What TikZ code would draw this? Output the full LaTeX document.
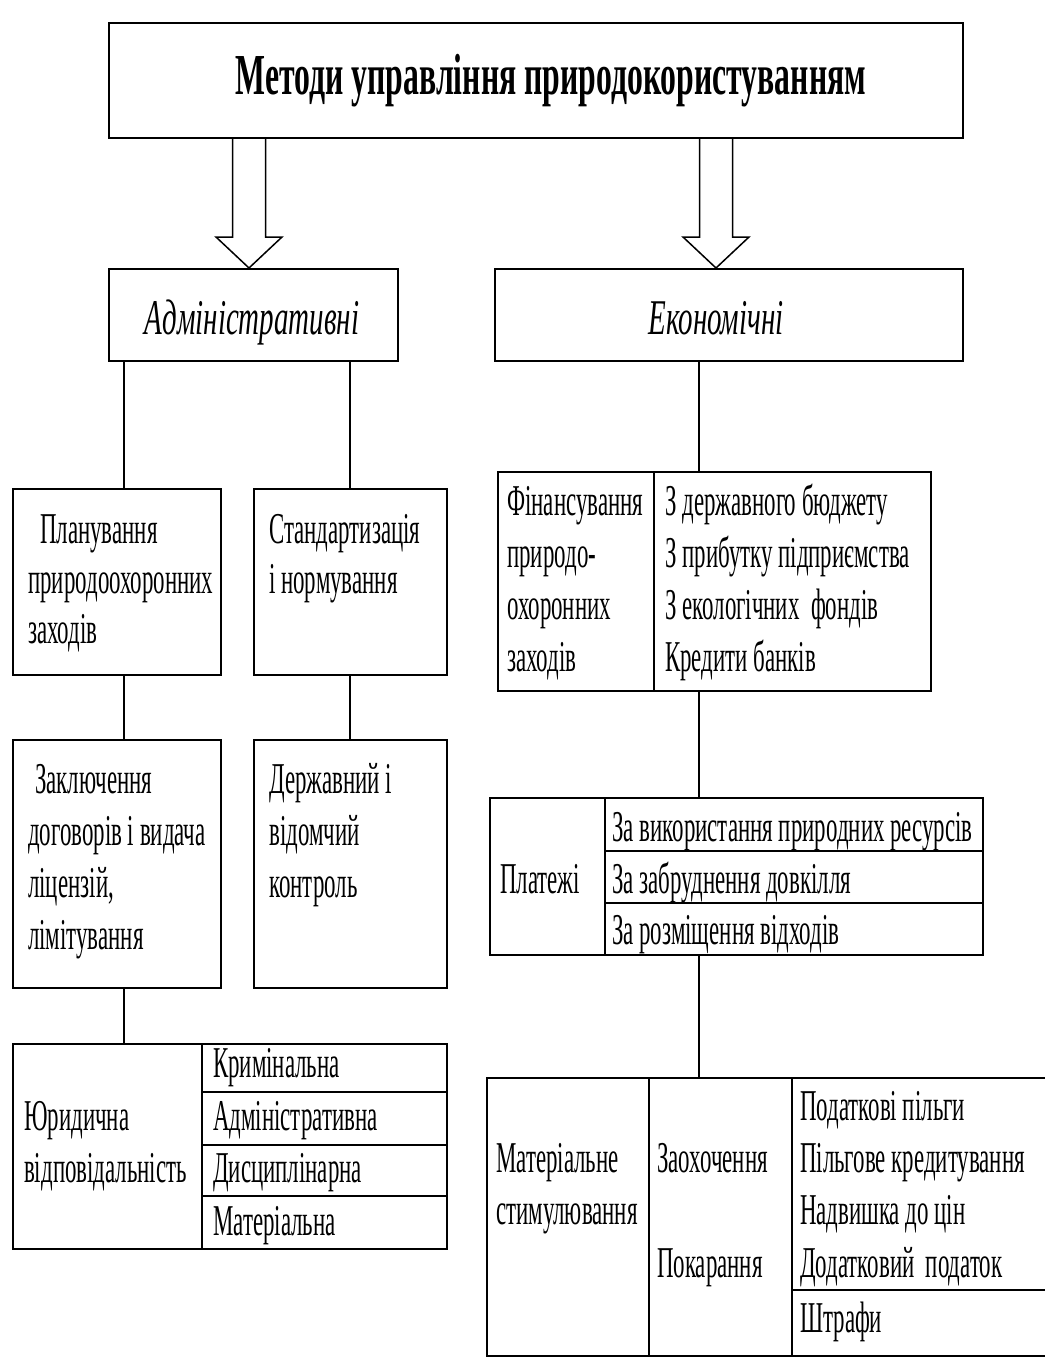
\documentclass[tikz,border=0pt]{standalone}
\usepackage{fontspec}
\setmainfont[FakeStretch=0.52]{Liberation Serif}
\newfontfamily\titlefont[FakeStretch=0.547]{Liberation Serif}
\newfontfamily\headfont[FakeStretch=0.58]{Liberation Serif}
\usetikzlibrary{calc}
\newcommand\bodytext{\fontsize{44}{52}\selectfont}
\tikzset{
  box/.style={draw, line width=2pt, rectangle, inner sep=0pt, anchor=north west},
  conn/.style={line width=1.5pt},
  rule/.style={line width=2pt},
  lbl/.style={anchor=base west, inner sep=0pt, font=\bodytext},
  head/.style={anchor=base, inner sep=0pt, font=\headfont\itshape\fontsize{50}{52}\selectfont},
  hollow/.style={line width=1.5pt, line join=miter, fill=white},
}
\newcommand\tx[4]{\node[lbl] (#1) at (#2,#3) {#4};}
\begin{document}
\begin{tikzpicture}[x=1pt, y=-1pt]
\useasboundingbox (0,0) rectangle (1044,1365);

% top level
\node[box, minimum width=854pt, minimum height=115pt] (title) at (108,22) {};
\node[anchor=base, inner sep=0pt, font=\titlefont\bfseries\fontsize{58}{60}\selectfont]
  (titletext) at (551,94) {Методи управління природокористуванням};

\node[box, minimum width=289pt, minimum height=92pt] (adm) at (108,268) {};
\node[head] (admtext) at (252,334) {Адміністративні};
\node[box, minimum width=468pt, minimum height=92pt] (eco) at (494,268) {};
\node[head] (ecotext) at (716,334) {Економічні};

% hollow block arrows
\coordinate (aL) at (249,0);
\coordinate (aR) at (716,0);
\foreach \a/\b in {aL/adm, aR/eco}{
  \draw[hollow] ($(title.south -| \a)+(-16.5,0)$) -- ($(\b.north -| \a)+(-16.5,-31)$)
    -- ($(\b.north -| \a)+(-33,-31)$) -- (\b.north -| \a)
    -- ($(\b.north -| \a)+(33,-31)$) -- ($(\b.north -| \a)+(16.5,-31)$)
    -- ($(title.south -| \a)+(16.5,0)$);
}

% administrative branch
\node[box, minimum width=208pt, minimum height=186pt] (plan) at (12,488) {};
\node[box, minimum width=193pt, minimum height=186pt] (std) at (253,488) {};
\node[box, minimum width=208pt, minimum height=248pt] (zakl) at (12,739) {};
\node[box, minimum width=193pt, minimum height=248pt] (derzh) at (253,739) {};
\node[box, minimum width=434pt, minimum height=205pt] (jur) at (12,1043) {};

\coordinate (cL) at (124,0);
\coordinate (cM) at (350,0);
\draw[conn] (adm.south -| cL) -- (plan.north -| cL);
\draw[conn] (adm.south -| cM) -- (std.north -| cM);
\draw[conn] (plan.south -| cL) -- (zakl.north -| cL);
\draw[conn] (std.south -| cM) -- (derzh.north -| cM);
\draw[conn] (zakl.south -| cL) -- (jur.north -| cL);

\tx{p1}{40}{543}{Планування}
\tx{p2}{28}{593}{природоохоронних}
\tx{p3}{28}{643}{заходів}
\tx{s1}{269}{543}{Стандартизація}
\tx{s2}{269}{593}{і нормування}
\tx{z1}{35}{793}{Заключення}
\tx{z2}{28}{845}{договорів і видача}
\tx{z3}{28}{897}{ліцензій,}
\tx{z4}{28}{949}{лімітування}
\tx{d1}{269}{793}{Державний і}
\tx{d2}{269}{845}{відомчий}
\tx{d3}{269}{897}{контроль}

% legal liability table
\coordinate (jx) at (202,0);
\draw[rule] (jur.north -| jx) -- (jur.south -| jx);
\foreach \y in {1092,1145,1196}{
  \draw[rule] (202,\y) -- (jur.east |- 0,\y);
}
\tx{j1}{24}{1130}{Юридична}
\tx{j2}{24}{1182}{відповідальність}
\tx{k1}{213}{1077}{Кримінальна}
\tx{k2}{213}{1130}{Адміністративна}
\tx{k3}{213}{1182}{Дисциплінарна}
\tx{k4}{213}{1235}{Матеріальна}

% economic branch
\node[box, minimum width=433pt, minimum height=219pt] (fin) at (497,471) {};
\node[box, minimum width=493pt, minimum height=157pt] (plat) at (489,797) {};
\node[box, minimum width=600pt, minimum height=278pt] (mat) at (486,1077) {};

\coordinate (cR) at (699,0);
\draw[conn] (eco.south -| cR) -- (fin.north -| cR);
\draw[conn] (fin.south -| cR) -- (plat.north -| cR);
\draw[conn] (plat.south -| cR) -- (mat.north -| cR);

% financing table
\coordinate (fx) at (654,0);
\draw[rule] (fin.north -| fx) -- (fin.south -| fx);
\tx{f1}{507}{515}{Фінансування}
\tx{f2}{507}{567}{природо-}
\tx{f3}{507}{619}{охоронних}
\tx{f4}{507}{671}{заходів}
\tx{g1}{665}{515}{З державного бюджету}
\tx{g2}{665}{567}{З прибутку підприємства}
\tx{g3}{665}{619}{З екологічних\ \ фондів}
\tx{g4}{665}{671}{Кредити банків}

% payments table
\coordinate (px) at (605,0);
\draw[rule] (plat.north -| px) -- (plat.south -| px);
\foreach \y in {851,903}{
  \draw[rule] (605,\y) -- (plat.east |- 0,\y);
}
\tx{pl}{500}{893}{Платежі}
\tx{r1}{612}{841}{За використання природних ресурсів}
\tx{r2}{612}{893}{За забруднення довкілля}
\tx{r3}{612}{944}{За розміщення відходів}

% incentives table
\coordinate (mx1) at (649,0);
\coordinate (mx2) at (792,0);
\draw[rule] (mat.north -| mx1) -- (mat.south -| mx1);
\draw[rule] (mat.north -| mx2) -- (mat.south -| mx2);
\draw[rule] (792,1290) -- (mat.east |- 0,1290);
\tx{m1}{496}{1172}{Матеріальне}
\tx{m2}{496}{1224}{стимулювання}
\tx{e1}{657}{1172}{Заохочення}
\tx{e2}{657}{1277}{Покарання}
\tx{t1}{800}{1120}{Податкові пільги}
\tx{t2}{800}{1172}{Пільгове кредитування}
\tx{t3}{800}{1224}{Надвишка до цін}
\tx{t4}{800}{1277}{Додатковий\ \ податок}
\tx{t5}{800}{1332}{Штрафи}
\end{tikzpicture}
\end{document}
